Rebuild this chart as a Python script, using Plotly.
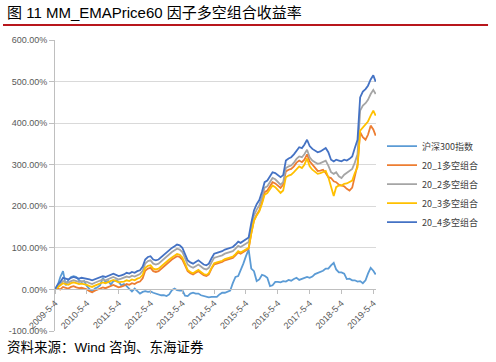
import plotly.graph_objects as go
import pandas as pd

# monthly sample dates read along the x axis (plus the last day shown)
dates = list(pd.date_range("2009-05-04", periods=121, freq=pd.DateOffset(months=1)).strftime("%Y-%m-%d")) + ["2019-05-31"]

hs300 = [0, 10, 30, 44, 10, 22, 30, 32, 30, 22, 18, 20,
         8, 2, -6, 2, 5, 10, 28, 18, 20, 12, 20, 22,
         18, 10, 13, 8, 0, -5, 2, -5, -10, -6, -4, -6,
         -5, -8, -10, -12, -14, -14, -16, -12, -2, 2, -2, -3,
         -2, -15, -16, -10, -8, -10, -10, -14, -16, -18, -19, -18,
         -18, -18, -12, -8, -8, -5, -3, 15, 30, 32, 45, 62,
         80, 96, 50, 44, 20, 24, 35, 33, 28, 8, 10, 18,
         18, 17, 20, 19, 23, 21, 25, 28, 23, 26, 28, 30,
         28, 31, 37, 40, 43, 45, 50, 50, 58, 64, 48, 41,
         41, 38, 25, 26, 22, 22, 19, 20, 15, 22, 38, 52,
         45, 36]

s1 = [0, 2, 0, 6, 4, 2, 6, 8, 5, 3, 4, 2,
      0, -4, -7, -3, 0, 3, 5, 3, 6, 9, 11, 8,
      5, 7, 9, 13, 11, 15, 13, 17, 19, 27, 45, 50,
      52, 44, 42, 44, 50, 55, 60, 67, 72, 76, 80, 78,
      72, 58, 44, 39, 36, 40, 44, 39, 34, 32, 36, 50,
      60, 62, 64, 66, 70, 72, 74, 76, 82, 89, 86, 90,
      94, 98, 135, 166, 180, 190, 210, 234, 238, 248, 258, 255,
      250, 244, 252, 284, 288, 290, 296, 305, 310, 306, 312, 325,
      308, 300, 292, 285, 286, 288, 280, 270, 268, 260, 258, 252,
      250, 248, 242, 238, 245, 270, 300, 378, 366, 360, 372, 394,
      385, 370]

s2 = [0, 8, 12, 20, 18, 16, 20, 22, 20, 18, 20, 19,
      18, 15, 13, 16, 19, 22, 24, 22, 25, 28, 30, 27,
      24, 26, 28, 31, 29, 33, 31, 35, 37, 45, 62, 68,
      70, 62, 60, 62, 68, 72, 78, 85, 90, 94, 98, 96,
      90, 75, 60, 55, 52, 56, 60, 55, 50, 48, 52, 65,
      76, 78, 80, 82, 86, 88, 90, 92, 98, 105, 102, 106,
      110, 114, 148, 178, 192, 202, 222, 245, 248, 258, 268, 265,
      258, 252, 258, 292, 296, 298, 305, 314, 320, 318, 325, 336,
      318, 310, 306, 302, 304, 307, 310, 298, 282, 278, 282, 272,
      268, 276, 280, 284, 290, 305, 325, 430, 442, 448, 456, 470,
      480, 470]

s3 = [0, 5, 8, 15, 13, 11, 15, 17, 15, 13, 14, 13,
      11, 8, 6, 9, 12, 15, 17, 15, 18, 21, 23, 20,
      17, 18, 19, 22, 20, 24, 22, 26, 28, 35, 52, 57,
      58, 50, 48, 50, 56, 60, 66, 72, 77, 81, 85, 83,
      77, 62, 47, 42, 39, 43, 47, 42, 37, 35, 39, 52,
      63, 65, 67, 69, 73, 75, 77, 79, 85, 92, 89, 93,
      97, 100, 135, 165, 178, 188, 206, 228, 232, 240, 250, 246,
      240, 232, 238, 270, 274, 276, 282, 290, 296, 292, 300, 315,
      296, 288, 282, 278, 280, 282, 285, 270, 250, 225, 246, 250,
      250, 254, 255, 258, 262, 280, 294, 382, 390, 396, 404, 418,
      430, 418]

s4 = [0, 12, 18, 28, 26, 24, 28, 30, 28, 26, 28, 27,
      26, 24, 22, 25, 27, 30, 32, 30, 33, 36, 38, 35,
      32, 34, 36, 40, 38, 42, 40, 44, 46, 55, 72, 78,
      80, 72, 70, 72, 78, 82, 88, 95, 100, 104, 108, 106,
      100, 85, 70, 65, 62, 66, 70, 65, 60, 58, 62, 75,
      86, 88, 90, 92, 96, 98, 100, 102, 108, 115, 112, 116,
      121, 125, 160, 190, 205, 215, 235, 258, 262, 272, 282, 280,
      276, 270, 275, 310, 315, 318, 325, 335, 342, 340, 348, 360,
      345, 338, 334, 330, 332, 336, 340, 330, 312, 308, 312, 310,
      308, 312, 310, 314, 320, 340, 360, 462, 476, 482, 490, 505,
      515, 500]

names = ["沪深300指数", "20_1多空组合", "20_2多空组合", "20_3多空组合", "20_4多空组合"]
colors = ["#5B9BD5", "#ED7D31", "#A5A5A5", "#FFC000", "#4472C4"]

x_tick_vals = [f"{y}-05-04" for y in range(2009, 2020)]
x_tick_text = [f"{y}-5-4" for y in range(2009, 2020)]
y_tick_vals = [-100, 0, 100, 200, 300, 400, 500, 600]
y_tick_text = [f"{v:.2f}%" for v in y_tick_vals]

FONT = "Liberation Sans, Arial, Noto Sans CJK SC, sans-serif"

fig = go.Figure()
for name, color, ys in zip(names, colors, [hs300, s1, s2, s3, s4]):
    fig.add_trace(go.Scatter(x=dates, y=ys, mode="lines", name=name,
                             line=dict(color=color, width=1.8)))

fig.update_layout(
    width=496, height=362,
    margin=dict(l=55, r=120, t=40, b=31),
    plot_bgcolor="white", paper_bgcolor="white",
    font=dict(family=FONT, size=9, color="#595959"),
    legend=dict(x=1.0187, y=0.505, xanchor="left", yanchor="middle",
                font=dict(size=9, color="#404040", family="Noto Sans CJK SC, Liberation Sans"),
                bgcolor="rgba(0,0,0,0)"),
    xaxis=dict(type="date", range=["2009-05-04", "2019-06-04"],
               tickvals=x_tick_vals, ticktext=x_tick_text, tickangle=-45,
               showgrid=False, zeroline=False, showline=True, linecolor="#BFBFBF",
               ticks="outside", ticklen=4, tickcolor="#BFBFBF",
               anchor="free", position=1/7, automargin=False,
               tickfont=dict(size=9, color="#595959")),
    yaxis=dict(range=[-100, 600], tickvals=y_tick_vals, ticktext=y_tick_text,
               showgrid=True, gridcolor="#D9D9D9", gridwidth=1, zeroline=False,
               showline=True, linecolor="#BFBFBF", ticks="outside", ticklen=5,
               tickcolor="#BFBFBF", automargin=False,
               tickfont=dict(size=9, color="#595959")),
)

fig.add_annotation(text="图 11 MM_EMAPrice60 因子多空组合收益率", xref="paper", yref="paper",
                   x=-0.1558, y=1.096, xanchor="left", yanchor="middle", showarrow=False,
                   font=dict(size=15, color="#000000", family=FONT))
fig.add_shape(type="line", xref="paper", yref="paper", x0=-0.162, x1=1.349, y0=1.0515, y1=1.0515,
              line=dict(color="#B8161C", width=2))
fig.add_annotation(text="资料来源：Wind 咨询、东海证券", xref="paper", yref="paper",
                   x=-0.1558, y=-0.055, xanchor="left", yanchor="middle", showarrow=False,
                   font=dict(size=13.5, color="#000000", family=FONT))

fig.write_html("out.html", config={"displayModeBar": False},
               post_script="document.body.style.margin='0';document.body.style.overflow='hidden';")
